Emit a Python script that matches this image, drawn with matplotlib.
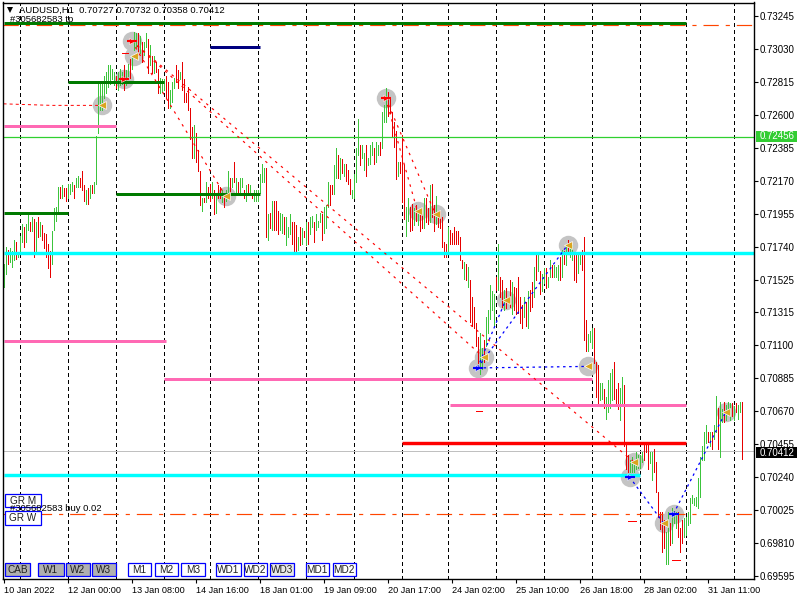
import numpy as np
import matplotlib
matplotlib.use("Agg")
import matplotlib.pyplot as plt
from matplotlib.patches import Rectangle
from matplotlib.transforms import IdentityTransform

plt.rcParams["font.family"] = ["Liberation Sans", "DejaVu Sans"]
plt.rcParams["lines.scale_dashes"] = False

# AUDUSD H1 bars, high and low in pips (1 pip = 0.0001)
highs = [
    7163, 7174, 7172, 7173, 7171, 7178, 7177, 7170, 7181, 7189,
    7187, 7189, 7195, 7190, 7193, 7192, 7190, 7193, 7190, 7188,
    7183, 7182, 7176, 7171, 7184, 7199, 7200, 7213, 7213, 7214,
    7212, 7212, 7215, 7215, 7216, 7214, 7219, 7220, 7219, 7223,
    7214, 7211, 7212, 7214, 7214, 7216, 7246, 7280, 7280, 7280,
    7285, 7288, 7292, 7292, 7290, 7288, 7285, 7288, 7290, 7288,
    7292, 7289, 7293, 7296, 7299, 7314, 7313, 7313, 7311, 7307,
    7307, 7313, 7309, 7305, 7298, 7298, 7294, 7290, 7284, 7283,
    7283, 7285, 7281, 7276, 7281, 7284, 7292, 7289, 7288, 7294,
    7283, 7274, 7278, 7264, 7252, 7253, 7248, 7237, 7223, 7206,
    7206, 7216, 7213, 7215, 7216, 7211, 7209, 7214, 7213, 7211,
    7208, 7211, 7223, 7219, 7219, 7229, 7219, 7216, 7219, 7219,
    7211, 7214, 7215, 7214, 7209, 7211, 7211, 7211, 7221, 7228,
    7225, 7225, 7195, 7196, 7204, 7204, 7204, 7197, 7196, 7195,
    7193, 7193, 7187, 7195, 7190, 7190, 7188, 7180, 7187, 7186,
    7184, 7190, 7190, 7193, 7194, 7190, 7195, 7191, 7196, 7195,
    7200, 7201, 7216, 7214, 7214, 7227, 7238, 7234, 7232, 7231,
    7228, 7228, 7224, 7218, 7211, 7221, 7238, 7257, 7240, 7240,
    7235, 7240, 7232, 7240, 7242, 7238, 7242, 7240, 7242, 7262,
    7266, 7277, 7275, 7270, 7262, 7255, 7249, 7229, 7229, 7247,
    7227, 7200, 7206, 7200, 7202, 7199, 7201, 7198, 7195, 7195,
    7206, 7206, 7199, 7214, 7215, 7201, 7207, 7197, 7197, 7193,
    7177, 7176, 7187, 7185, 7183, 7187, 7184, 7184, 7180, 7165,
    7164, 7163, 7161, 7152, 7141, 7135, 7124, 7115, 7118, 7108,
    7113, 7128, 7133, 7149, 7145, 7143, 7154, 7176, 7154, 7152,
    7146, 7147, 7141, 7152, 7151, 7148, 7147, 7154, 7141, 7136,
    7141, 7138, 7145, 7146, 7151, 7161, 7169, 7170, 7158, 7156,
    7160, 7160, 7154, 7165, 7162, 7162, 7161, 7162, 7167, 7172,
    7171, 7176, 7178, 7176, 7175, 7169, 7169, 7170, 7169, 7172,
    7180, 7126, 7117, 7119, 7121, 7121, 7099, 7097, 7085, 7085,
    7081, 7076, 7087, 7092, 7094, 7099, 7081, 7085, 7082, 7089,
    7084, 7046, 7038, 7035, 7037, 7034, 7040, 7038, 7038, 7040,
    7046, 7046, 7045, 7040, 7040, 7042, 7034, 7014, 7001, 7001,
    6996, 6988, 7001, 6994, 7004, 7002, 7001, 7001, 6991, 6996,
    6997, 6998, 7001, 7010, 7012, 7010, 7011, 7023, 7037, 7044,
    7053, 7058, 7053, 7053, 7053, 7058, 7077, 7069, 7073, 7068,
    7073, 7071, 7073, 7072, 7072, 7070, 7072, 7071, 7073, 7073,
]
lows = [
    7148, 7156, 7163, 7164, 7161, 7165, 7166, 7167, 7171, 7177,
    7174, 7177, 7185, 7184, 7184, 7167, 7171, 7180, 7181, 7178,
    7173, 7167, 7160, 7154, 7163, 7185, 7191, 7196, 7206, 7206,
    7207, 7204, 7206, 7208, 7210, 7206, 7213, 7213, 7213, 7211,
    7204, 7202, 7202, 7206, 7209, 7209, 7215, 7248, 7263, 7263,
    7271, 7274, 7278, 7280, 7283, 7279, 7277, 7276, 7279, 7280,
    7276, 7279, 7285, 7284, 7290, 7302, 7304, 7299, 7300, 7294,
    7299, 7304, 7287, 7292, 7287, 7287, 7288, 7274, 7274, 7275,
    7276, 7271, 7264, 7264, 7268, 7277, 7281, 7277, 7283, 7276,
    7268, 7268, 7263, 7244, 7232, 7232, 7229, 7223, 7201, 7197,
    7203, 7203, 7206, 7204, 7206, 7195, 7196, 7206, 7206, 7203,
    7200, 7204, 7206, 7209, 7213, 7216, 7209, 7209, 7209, 7213,
    7206, 7204, 7209, 7208, 7206, 7204, 7204, 7204, 7209, 7216,
    7216, 7180, 7178, 7186, 7185, 7185, 7185, 7182, 7185, 7183,
    7182, 7175, 7180, 7182, 7176, 7169, 7171, 7172, 7175, 7176,
    7180, 7175, 7176, 7182, 7187, 7177, 7185, 7187, 7190, 7178,
    7183, 7186, 7200, 7201, 7208, 7208, 7219, 7219, 7218, 7222,
    7220, 7217, 7215, 7208, 7206, 7206, 7216, 7234, 7227, 7232,
    7224, 7220, 7227, 7228, 7234, 7228, 7229, 7234, 7234, 7238,
    7255, 7255, 7259, 7261, 7246, 7239, 7218, 7220, 7222, 7203,
    7192, 7181, 7191, 7184, 7185, 7188, 7191, 7188, 7184, 7186,
    7186, 7190, 7189, 7190, 7193, 7184, 7189, 7187, 7186, 7174,
    7167, 7167, 7171, 7176, 7176, 7176, 7176, 7176, 7165, 7160,
    7153, 7152, 7148, 7125, 7122, 7121, 7109, 7098, 7091, 7094,
    7099, 7109, 7118, 7127, 7133, 7122, 7146, 7146, 7141, 7135,
    7133, 7134, 7137, 7135, 7130, 7133, 7130, 7131, 7124, 7121,
    7128, 7122, 7121, 7132, 7135, 7141, 7152, 7158, 7143, 7145,
    7150, 7147, 7148, 7154, 7154, 7154, 7154, 7152, 7152, 7154,
    7163, 7162, 7170, 7167, 7165, 7152, 7151, 7157, 7163, 7159,
    7113, 7106, 7106, 7112, 7108, 7098, 7076, 7072, 7074, 7075,
    7069, 7062, 7066, 7069, 7074, 7075, 7070, 7068, 7061, 7072,
    7044, 7029, 7027, 7027, 7027, 7027, 7029, 7030, 7030, 7034,
    7035, 7040, 7029, 7033, 7022, 7027, 7014, 6998, 6990, 6975,
    6978, 6967, 6967, 6980, 6981, 6994, 6991, 6985, 6975, 6981,
    6985, 6986, 6993, 6994, 7007, 7006, 7005, 7004, 7011, 7035,
    7035, 7046, 7047, 7044, 7042, 7049, 7053, 7042, 7037, 7060,
    7060, 7061, 7066, 7061, 7064, 7061, 7066, 7062, 7066, 7036,
]
directions = (
    "ggrgggrggg" "rggrgrgrgr" "rrrrggggrg" "rrgggrggrr" "rgrgrggggg"
    "ggggggrggg" "rggrgggrgr" "ggrgrgrrgg" "grrgggrrgr" "rrrrrgrrrg"
    "rgrrgrgrrg" "rggrgrgrgg" "rgrgrggggg" "grgrgrrrgg" "rgggrrrgrg"
    "rgrggrgggr" "gggrrggrgr" "grrrggggrg" "grgggrggrg" "ggrrrrrgrr"
    "rggrrgrgrr" "grrgrrgrrr" "rrgrrrrrrr" "grgrrrrrgg" "rgggggrgrr"
    "grrrgrrrrr" "grgrrgrgrg" "grggrgggrg" "rgrggrrggr" "rrgggrrrgg"
    "rggggrrrgg" "rrrggggggg" "rrrggrrrrr" "rggrgggrrr" "gggggggggg"
    "ggrgrggrgg" "rgggrgrggr"
)

# axis labels
y_ticks = [0.73245, 0.73030, 0.72815, 0.72600, 0.72385, 0.72170, 0.71955, 0.71740, 0.71525,
           0.71315, 0.71100, 0.70885, 0.70670, 0.70455, 0.70240, 0.70025, 0.69810, 0.69595]
x_tick_bars = [0, 32, 64, 96, 128, 160, 192, 224, 256, 288, 320, 352]
x_tick_labels = ["10 Jan 2022", "12 Jan 00:00", "13 Jan 08:00", "14 Jan 16:00",
                 "18 Jan 01:00", "19 Jan 09:00", "20 Jan 17:00", "24 Jan 02:00",
                 "25 Jan 10:00", "26 Jan 18:00", "28 Jan 02:00", "31 Jan 11:00"]
period_seps = [8, 32, 56, 80, 103, 127, 151, 175, 199, 222, 246, 270, 294, 318, 341, 365]

# price levels: start bar, end bar, pips
green_levels = [(0, 341, 7319.5), (32, 80, 7281), (56, 128, 7208), (0, 32, 7196)]
navy_levels = [(103, 128, 7304)]
pink_levels = [(0, 56, 7252.5), (0, 81, 7112.6), (80, 294, 7088), (223, 341, 7071)]
cyan_levels = [(0, 375, 7169.7), (0, 318, 7025)]
red_levels = [(199, 341, 7046)]
bid_price = 0.72456
last_price = 0.70412
order_levels = [7318.6, 7000]

# trades: bar and pips
close_bars = [49, 65, 111, 207, 216, 282, 240, 251, 292, 315, 330, 361]
close_pips = [7266, 7298, 7207, 7197, 7195, 7175, 7102, 7139, 7096, 7034, 6994, 7066]
sell_bars = [64, 60, 191]
sell_pips = [7308, 7283, 7271]
buy_bars = [237, 313, 335]
buy_pips = [7095, 7024, 7000]

red_links = [((64, 7308), (111, 7207)), ((64, 7308), (240, 7102)), ((64, 7308), (315, 7034)),
             ((191, 7271), (207, 7197)), ((191, 7271), (216, 7195))]
blue_links = [((237, 7095), (292, 7096)), ((237, 7095), (251, 7139)), ((237, 7095), (282, 7175)),
              ((313, 7024), (330, 6994)), ((335, 7000), (361, 7066))]
old_trade_bars = [0, 24, 49]
old_trade_pips = [7267, 7266, 7266]
stub_marks = [(59, 62, 7300), (236, 239, 7067), (312, 316, 6995), (334, 338, 6970)]

buttons_grey = [("CAB", 5, 30), ("W1", 38, 64), ("W2", 65.5, 90), ("W3", 92, 116)]
buttons_white = [("M1", 127.5, 151), ("M2", 154.5, 178), ("M3", 181, 205),
                 ("WD1", 216, 241), ("WD2", 243.5, 267), ("WD3", 270, 294),
                 ("MD1", 305.5, 329), ("MD2", 332.5, 356)]

GREEN = "#3cc43c"
RED = "#e60000"
PX = 0.72  # one pixel in points at dpi 100


def px(p):
    return np.asarray(p, dtype=float) / 10000


fig = plt.figure(figsize=(8, 6), dpi=100)
ax = fig.add_axes([2.5 / 800, (600 - 578.6) / 600, 751.5 / 800, 576.1 / 600])
ax.set_xlim(-0.5, 375.25)
ax.set_ylim(0.69578, 0.73330)

# period separators
for b in period_seps:
    ax.plot([b, b], [0.69578, 0.73330], color="black", lw=PX, dashes=(2.4, 2.4), zorder=1, antialiased=False)

# grey circles under the bars
ax.plot(close_bars + sell_bars + buy_bars, px(close_pips + sell_pips + buy_pips), ls="none", marker="o",
        ms=14, color="#c4c4c4", mew=0, zorder=2)

# bars
bar_colors = [GREEN if d == "g" else RED for d in directions]
ax.vlines(range(len(highs)), px(lows), px(highs), colors=bar_colors, lw=PX, zorder=3, antialiased=False)

# levels over the bars
for levels, color, width in [(green_levels, "#007a00", 3), (navy_levels, "#000080", 3), (pink_levels, "#ff69b4", 3),
                             (cyan_levels, "#00ffff", 3.4), (red_levels, "#ff0000", 3.4)]:
    for b0, b1, p in levels:
        ax.plot([b0, b1], px([p, p]), color=color, lw=width * PX, solid_capstyle="butt", zorder=4)
ax.axhline(bid_price, color="#2fd02f", lw=0.9, zorder=4)
ax.axhline(last_price, color="#c0c0c0", lw=PX, zorder=2.5, antialiased=False)
for p in order_levels:
    ax.axhline(p / 10000, color="#ff4500", lw=0.85, dashes=(11, 5, 3, 5), zorder=3.5)

# trade lines
for a, b in red_links:
    ax.plot([a[0], b[0]], px([a[1], b[1]]), color="#ff0000", lw=0.85, dashes=(1.8, 3.6), zorder=5)
for a, b in blue_links:
    ax.plot([a[0], b[0]], px([a[1], b[1]]), color="#0000ff", lw=0.9, dashes=(1.8, 2.6), zorder=5)
ax.plot(old_trade_bars, px(old_trade_pips), color="#ff0000", lw=0.7, dashes=(2.2, 2.2), zorder=5)
for b0, b1, p in stub_marks:
    ax.plot([b0, b1], px([p, p]), color="#ff0000", lw=PX, zorder=5, antialiased=False)

# arrows
ax.plot(close_bars, px(close_pips), ls="none", marker="<", ms=5.2, color="#daa520", mec="white", mew=0.5, zorder=6)
for bars, pips, color in [(sell_bars, sell_pips, "#ff0000"), (buy_bars, buy_pips, "#0000ff")]:
    ax.plot(bars, px(pips), ls="none", marker=">", ms=5, color=color, mec="white", mew=0.4, zorder=6)
    ax.plot(bars, px(pips), ls="none", marker="_", ms=7, color=color, mew=1.5, zorder=6)

# axes
for s in ax.spines.values():
    s.set_linewidth(1.0)
    s.set_zorder(7)
ax.yaxis.tick_right()
ax.set_yticks(y_ticks, [f"{v:.5f}" for v in y_ticks])
ax.set_xticks(x_tick_bars, x_tick_labels, ha="left")
ax.tick_params(axis="y", length=3, width=0.8, pad=1, labelsize=7.0)
ax.tick_params(axis="x", length=3, width=0.8, pad=2.5, labelsize=6.6)


def text_px(x, y, s, **kw):
    fig.text(x / 800, 1 - y / 600, s, va="center", zorder=12, **kw)


def button(x0, x1, y0, y1, label, face):
    r = Rectangle((x0, 600 - y1), x1 - x0, y1 - y0, transform=IdentityTransform(), facecolor=face,
                  edgecolor="#0000ff", lw=0.9, zorder=11)
    fig.add_artist(r)
    text_px((x0 + x1) / 2, (y0 + y1) / 2 + 0.5, label, ha="center", fontsize=7.2, color="#202020")


# header
ax.plot([3], [0.7328], ls="none", marker="v", ms=4.5, color="black", mew=0, zorder=8)
text_px(19, 10.5, "AUDUSD,H1  0.70727 0.70732 0.70358 0.70412", ha="left", fontsize=6.8, color="black")
text_px(10, 19.5, "#305682583 tp", ha="left", fontsize=6.8, color="black")
text_px(10, 508.5, "#305682583 buy 0.02", ha="left", fontsize=6.8, color="black")

button(5, 41, 493.5, 507, "GR M", "white")
button(5, 41, 511, 524.5, "GR W", "white")
for label, x0, x1 in buttons_grey:
    button(x0, x1, 563, 576, label, "#b0b0b0")
for label, x0, x1 in buttons_white:
    button(x0, x1, 563, 576, label, "#e8e8e8" if label == "WD3" else "white")

# price labels on the axis
for y0, y1, face, value in [(130.5, 141.5, "#32cd32", bid_price), (446.5, 458, "black", last_price)]:
    fig.add_artist(Rectangle((755.5, 600 - y1), 41.5, y1 - y0, transform=IdentityTransform(),
                             facecolor=face, edgecolor="none", zorder=11))
    text_px(760, (y0 + y1) / 2 + 0.3, f"{value:.5f}", ha="left", fontsize=7.0, color="white")

fig.savefig("out.png", dpi=100)
